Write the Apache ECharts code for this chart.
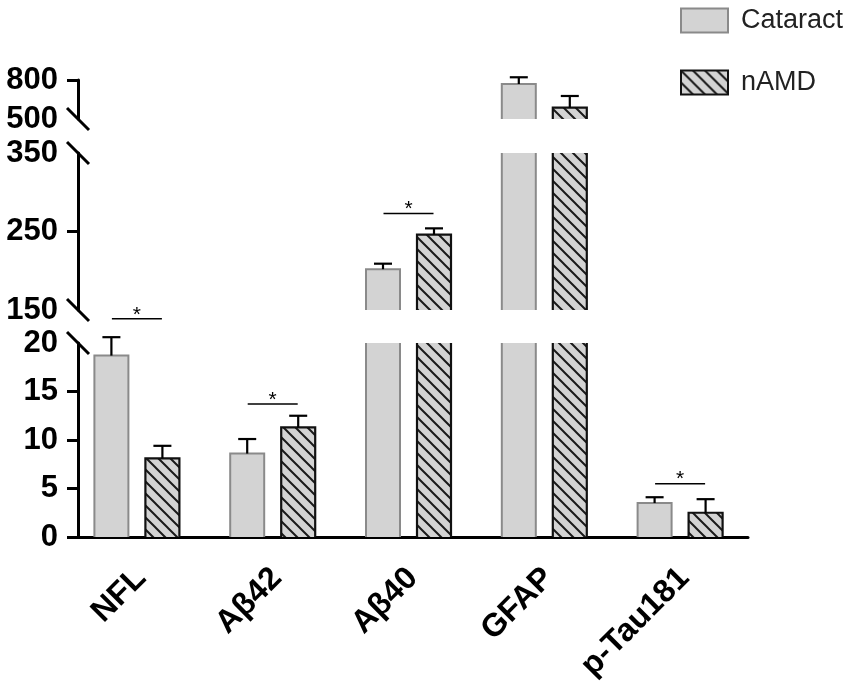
<!DOCTYPE html>
<html>
<head>
<meta charset="utf-8">
<script src="https://cdn.jsdelivr.net/npm/echarts@6/dist/echarts.min.js"></script>
<style>
  html, body { margin: 0; background: #fff; }
  #chart { width: 850px; height: 692px; }
</style>
</head>
<body>
<div id="chart"></div>
<script>
// data
var categories = ['NFL', 'Aβ42', 'Aβ40', 'GFAP', 'p-Tau181'];
var cataract = [18.7, 8.6, 202, 769, 3.5];
var cataractErr = [1.9, 1.5, 7, 52, 0.6];
var namd = [8.1, 11.3, 246, 587, 2.5];
var namdErr = [1.3, 1.2, 8, 90, 1.4];

// broken y axis, segments from bottom to top
var segMin = [0, 150, 500];
var segMax = [20, 350, 800];
var segTicks = [[0, 5, 10, 15], [250], [800]];
var segLabels = [[0, 5, 10, 15, 20], [150, 250, 350], [500, 800]];

// significance bars: [category index, height on that segment's axis]
var sigLow = [[0, 22.5], [1, 13.7], [4, 5.5]];
var sigMid = [[2, 273]];

// layout
var FONT = '"Liberation Sans", Arial, Helvetica, sans-serif';
var GRID_LEFT = 69, GRID_RIGHT = 102;
var segTop = [343, 153, 80];
var segHeight = [194, 157, 39];
var AXIS_SHIFT = 9;
var BAR_W = 34, BAR_GAP = 17, CAP_W = 18, SIG_W = 50;

// hatch fill for nAMD
function makeHatch() {
  var s = 12;
  var c = document.createElement('canvas');
  c.width = s; c.height = s;
  var ctx = c.getContext('2d');
  ctx.fillStyle = '#d3d3d3';
  ctx.fillRect(0, 0, s, s);
  ctx.strokeStyle = '#1a1a1a';
  ctx.lineWidth = 2;
  ctx.beginPath();
  ctx.moveTo(-2, -2); ctx.lineTo(s + 2, s + 2);
  ctx.moveTo(-2, s - 2); ctx.lineTo(2, s + 2);
  ctx.moveTo(s - 2, -2); ctx.lineTo(s + 2, 2);
  ctx.stroke();
  return c;
}
var hatch = { image: makeHatch(), repeat: 'repeat' };

var outlineData = [];
for (var i = 0; i < categories.length; i++) {
  outlineData.push([i, cataract[i], cataract[i] + cataractErr[i], 0]);
  outlineData.push([i, namd[i], namd[i] + namdErr[i], 1]);
}

// bar outline + error bar, open at the axis breaks
function outlineRender(g) {
  return function (params, api) {
    var val = api.value(1);
    if (val < segMin[g]) return;
    var cat = api.value(0), grp = api.value(3);
    var clipped = val > segMax[g];
    var top = api.coord([cat, clipped ? segMax[g] : val]);
    var base = api.coord([cat, segMin[g]]);
    var cx = top[0] + (grp ? 1 : -1) * (BAR_W + BAR_GAP) / 2;
    var l = cx - BAR_W / 2, r = cx + BAR_W / 2;
    var st = { stroke: grp ? '#111' : '#8a8a8a', lineWidth: grp ? 2.2 : 2, fill: null };
    var children = [];
    if (clipped) {
      children.push({ type: 'line', shape: { x1: l, y1: top[1], x2: l, y2: base[1] }, style: st });
      children.push({ type: 'line', shape: { x1: r, y1: top[1], x2: r, y2: base[1] }, style: st });
    } else {
      children.push({ type: 'polyline', shape: { points: [[l, base[1]], [l, top[1]], [r, top[1]], [r, base[1]]] }, style: st });
      var e = api.coord([cat, api.value(2)]);
      var es = { stroke: '#000', lineWidth: 2.2 };
      children.push({ type: 'line', shape: { x1: cx, y1: top[1], x2: cx, y2: e[1] }, style: es });
      children.push({ type: 'line', shape: { x1: cx - CAP_W / 2, y1: e[1], x2: cx + CAP_W / 2, y2: e[1] }, style: es });
    }
    return { type: 'group', children: children };
  };
}

function sigRender(params, api) {
  var p = api.coord([api.value(0), api.value(1)]);
  return {
    type: 'group',
    children: [
      { type: 'line', shape: { x1: p[0] - SIG_W / 2, y1: p[1], x2: p[0] + SIG_W / 2, y2: p[1] }, style: { stroke: '#000', lineWidth: 1.5 } },
      { type: 'text', style: { text: '*', x: p[0], y: p[1] - 4, align: 'center', verticalAlign: 'middle', fontSize: 21, fontFamily: FONT, fill: '#000' } }
    ]
  };
}

var grids = [], xAxes = [], yAxes = [], series = [];
for (var g = 0; g < 3; g++) {
  grids.push({ left: GRID_LEFT, right: GRID_RIGHT, top: segTop[g], height: segHeight[g], outerBoundsMode: 'none' });
  xAxes.push({
    gridIndex: g,
    type: 'category',
    data: categories,
    show: g === 0,
    axisLine: { lineStyle: { color: '#000', width: 3 } },
    axisTick: { alignWithLabel: true, length: 12, lineStyle: { color: '#000', width: 3 } },
    axisLabel: {
      interval: 0, rotate: 45, margin: 32,
      formatter: function (v) { return '{c|' + v + '}'; },
      rich: { c: { padding: [12, 0, 0, 0], color: '#000', fontSize: 32, fontWeight: 'bold', fontFamily: FONT } }
    }
  });
  yAxes.push({
    gridIndex: g,
    type: 'value',
    min: segMin[g],
    max: segMax[g],
    offset: -AXIS_SHIFT,
    splitLine: { show: false },
    axisLine: { show: true, lineStyle: { color: '#000', width: 3 } },
    axisTick: { show: true, length: 11, customValues: segTicks[g], lineStyle: { color: '#000', width: 3 } },
    axisLabel: { customValues: segLabels[g], margin: 20, color: '#000', fontSize: 31, fontWeight: 'bold', fontFamily: FONT }
  });
  series.push({
    name: 'Cataract', type: 'bar', xAxisIndex: g, yAxisIndex: g, data: cataract,
    barWidth: BAR_W, barGap: '50%', silent: true,
    itemStyle: { color: '#d3d3d3' }
  });
  series.push({
    name: 'nAMD', type: 'bar', xAxisIndex: g, yAxisIndex: g, data: namd,
    barWidth: BAR_W, barGap: '50%', silent: true,
    itemStyle: { color: hatch }
  });
  series.push({
    type: 'custom', xAxisIndex: g, yAxisIndex: g, data: outlineData,
    renderItem: outlineRender(g), silent: true, z: 3
  });
}
series.push({ type: 'custom', xAxisIndex: 0, yAxisIndex: 0, data: sigLow, renderItem: sigRender, silent: true, z: 4 });
series.push({ type: 'custom', xAxisIndex: 1, yAxisIndex: 1, data: sigMid, renderItem: sigRender, silent: true, z: 4 });

// break marks on the y axis
var axisX = GRID_LEFT + AXIS_SHIFT;
var breakYs = [segTop[2] + segHeight[2], segTop[1], segTop[1] + segHeight[1], segTop[0]];
var graphics = breakYs.map(function (y) {
  return {
    type: 'line', z: 10,
    shape: { x1: axisX - 11, y1: y - 11, x2: axisX + 11, y2: y + 11 },
    style: { stroke: '#000', lineWidth: 3 }
  };
});

var chart = echarts.init(document.getElementById('chart'), null, { renderer: 'canvas' });
chart.setOption({
  animation: false,
  backgroundColor: '#fff',
  grid: grids,
  xAxis: xAxes,
  yAxis: yAxes,
  legend: {
    left: 675, top: 2, orient: 'vertical',
    icon: 'rect', itemWidth: 47, itemHeight: 24, itemGap: 35,
    textStyle: { fontSize: 27, lineHeight: 24, padding: [0, 0, 0, 8], fontFamily: FONT, color: '#222' },
    data: [
      { name: 'Cataract', itemStyle: { borderColor: '#8a8a8a', borderWidth: 2 } },
      { name: 'nAMD', itemStyle: { borderColor: '#111', borderWidth: 2 } }
    ]
  },
  graphic: graphics,
  series: series
});
</script>
</body>
</html>
